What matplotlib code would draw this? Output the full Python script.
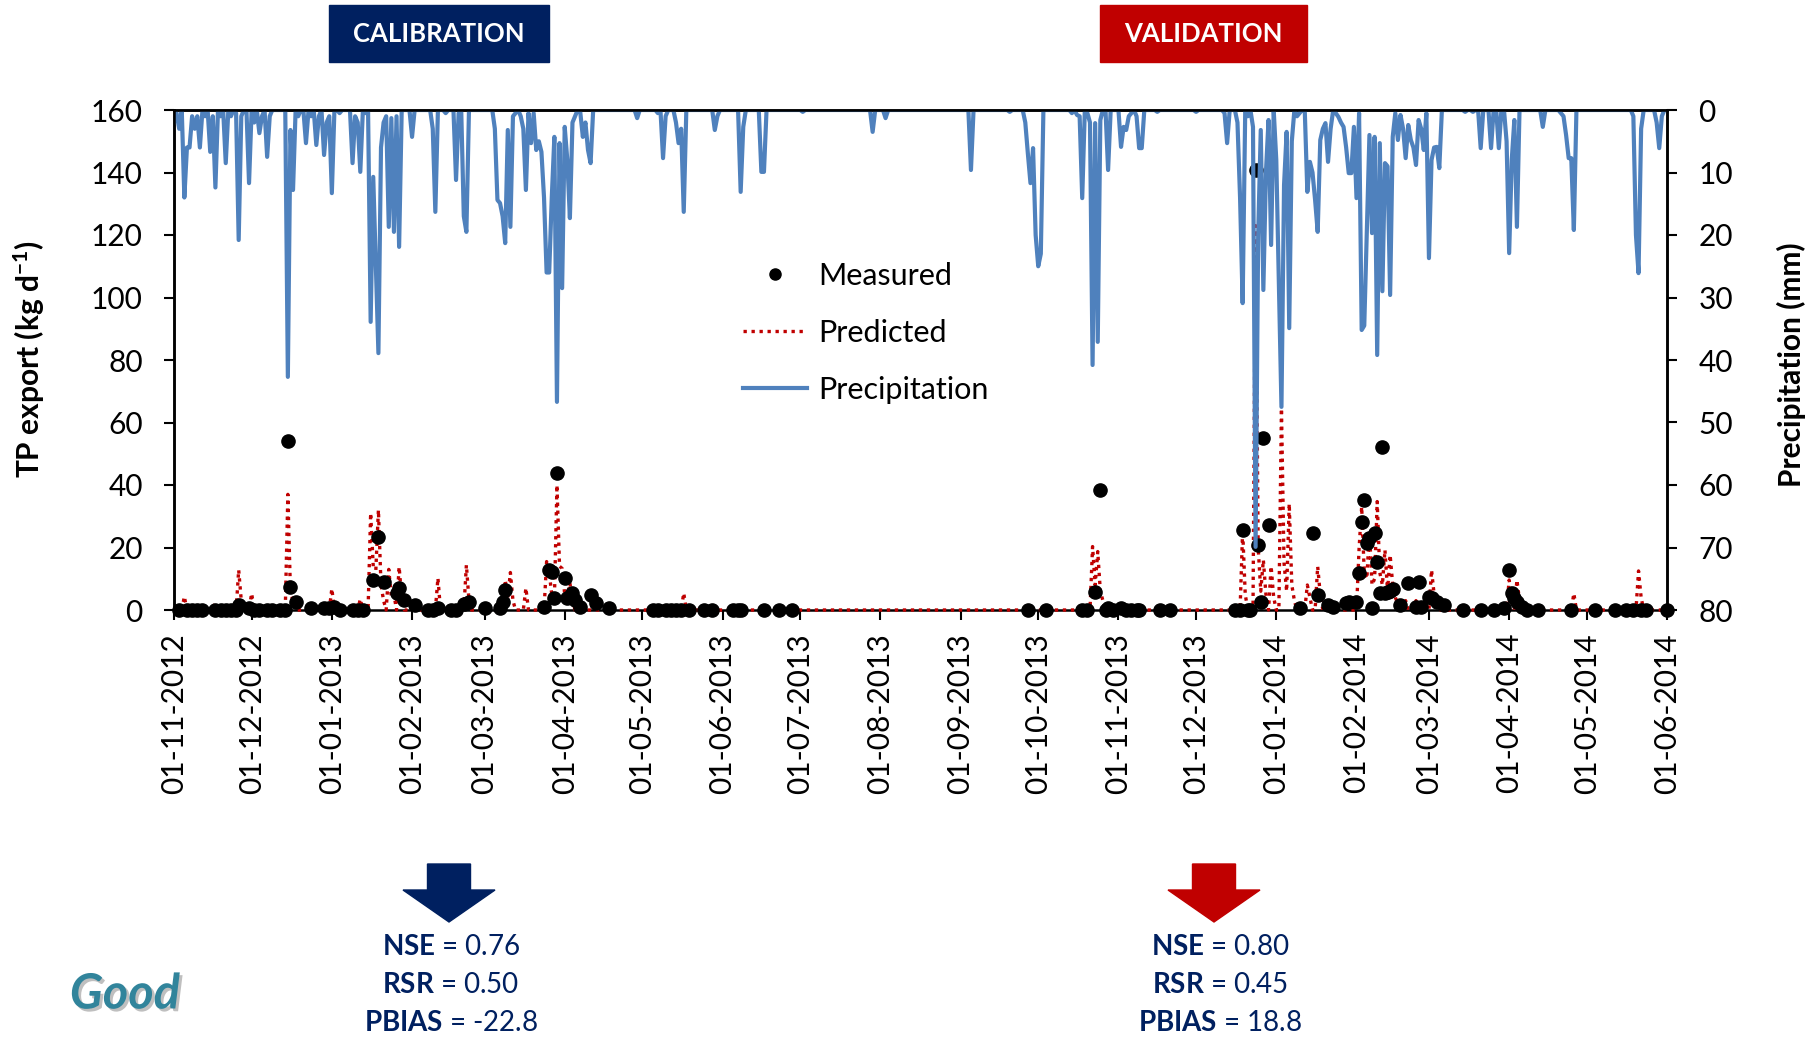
import numpy as np
import matplotlib
matplotlib.use('Agg')
import matplotlib.pyplot as plt
import matplotlib.dates as mdates
import matplotlib.patheffects as pe
from matplotlib import transforms
from matplotlib.lines import Line2D
from matplotlib.patches import Rectangle, Polygon

plt.rcParams['font.family'] = ['Lato', 'DejaVu Sans']
plt.rcParams['mathtext.fontset'] = 'custom'
plt.rcParams['mathtext.rm'] = 'Lato'
plt.rcParams['mathtext.bf'] = 'Lato:bold'
plt.rcParams['mathtext.it'] = 'Lato:italic'

start = np.datetime64('2012-11-01')
end = np.datetime64('2014-06-01')
split_date = np.datetime64('2013-05-29T10')

# daily rainfall as (days since 1 Nov 2012, mm); unlisted days were dry
rain = [(0, 2), (1, 0.5), (2, 3), (4, 14), (5, 6), (6, 6), (7, 1), (8, 3), (9, 1), (10, 6),
        (12, 1), (14, 6.7), (15, 1), (16, 12.4), (18, 1), (20, 8.5), (22, 1), (24, 0.5),
        (25, 20.8), (26, 1), (29, 11.7), (31, 2), (33, 3.7), (34, 1), (36, 7.5), (37, 1),
        (44, 42.7), (45, 3.2), (46, 12.8), (48, 1), (51, 5.3), (53, 1), (55, 5.6), (56, 1),
        (58, 7.2), (59, 2), (60, 1), (61, 13.3), (64, 0.5), (69, 8.5), (70, 1), (71, 2),
        (72, 9.9), (74, 0.5), (76, 33.9), (77, 10.7), (78, 25), (79, 38.9), (80, 6), (81, 2),
        (82, 1), (83, 18.7), (84, 1.3), (85, 19.5), (86, 1), (87, 21.9), (92, 4.3), (100, 3),
        (101, 16.3), (105, 0.5), (109, 11.2), (110, 0.5), (112, 17), (113, 19.5),
        (124, 3), (125, 14.4), (126, 14.9), (127, 17), (128, 21.3), (129, 3.2), (130, 18.7),
        (131, 1), (132, 0.5), (134, 1), (135, 3), (136, 12.8), (137, 0.5), (138, 5.3),
        (139, 0.5), (140, 6.4), (141, 5), (142, 6.7), (143, 14), (144, 26), (145, 26),
        (146, 14), (147, 4.3), (148, 46.7), (149, 5.3), (150, 28.5), (151, 2.7), (152, 8),
        (153, 17.3), (154, 2), (155, 1), (157, 0.3), (158, 4.3), (159, 2), (160, 6.4),
        (161, 8.5), (179, 1.3), (187, 0.5), (189, 7.7), (190, 1), (194, 2), (195, 5.3),
        (196, 3), (197, 16.3), (209, 3.2), (210, 1), (219, 13.1), (220, 2.7), (227, 9.9),
        (228, 9.9), (243, 0.3), (270, 3.5), (275, 1.3), (308, 9.6), (323, 0.3),
        (329, 2), (330, 7), (331, 11.7), (332, 6.1), (333, 20), (334, 25), (335, 23),
        (347, 0.5), (349, 0.8), (350, 1), (351, 14.1), (353, 0.5), (354, 2), (355, 40.8),
        (356, 2.1), (357, 37.1), (358, 1.6), (361, 9.6), (366, 5.9), (367, 2.7), (368, 3.2),
        (369, 1), (370, 0.5), (372, 1), (373, 6.1), (374, 6.1), (380, 0.3), (395, 0.3),
        (406, 0.5), (407, 5.3), (411, 2), (412, 14), (413, 30.9), (415, 1), (417, 2.7),
        (418, 69.9), (419, 20), (420, 3.2), (421, 28.8), (422, 10), (423, 1.6), (424, 21.6),
        (426, 8), (427, 28), (428, 47.5), (429, 12), (430, 3.5), (431, 34.9), (432, 5),
        (434, 1), (435, 0.5), (438, 13.1), (439, 8.3), (440, 10), (441, 14.4), (442, 19.5),
        (443, 4.8), (444, 3), (445, 2.1), (446, 8.3), (447, 3), (449, 0.5), (450, 1.1),
        (451, 2), (452, 2.7), (453, 6), (454, 10.1), (455, 10.1), (456, 2.7), (457, 14.1),
        (458, 0.5), (459, 35.2), (460, 34.5), (461, 19), (462, 4), (463, 19.7), (464, 4.3),
        (465, 39.2), (466, 5.3), (467, 29), (468, 8.5), (469, 9), (470, 29.6), (471, 4.3),
        (472, 0.5), (473, 4.8), (474, 0.8), (475, 3), (476, 7.7), (477, 2.4), (478, 4.8),
        (479, 6), (480, 8.8), (481, 1.6), (482, 3), (483, 6.4), (484, 0.5), (485, 23.7),
        (486, 8), (487, 6), (488, 5.9), (489, 9.3), (499, 0.3), (502, 0.3), (505, 6.1),
        (509, 6.1), (512, 6.1), (515, 5), (516, 22.9), (517, 8), (518, 1.6), (519, 18.7),
        (529, 2.7), (536, 0.5), (537, 1), (538, 4), (539, 7.7), (540, 7.7), (541, 19.2),
        (564, 1), (565, 20), (566, 26.1), (567, 3), (573, 2), (574, 6.1), (575, 1)]

# simulated TP export (kg/d); zero on unlisted days
pred = [(4, 4.3), (16, 2.5), (25, 12.8), (26, 3), (30, 5.3), (44, 37), (45, 6), (46, 3),
        (61, 6.8), (72, 3.5), (76, 31), (77, 14), (78, 12.8), (79, 32), (80, 8), (81, 3),
        (83, 13), (84, 4), (85, 5), (87, 13.8), (88, 4), (102, 10.2), (113, 14.4), (114, 3),
        (128, 9.6), (129, 4), (130, 12), (131, 3), (136, 7), (144, 15.5), (145, 12), (146, 5),
        (147, 3), (148, 40), (149, 14), (150, 13.3), (151, 5), (152, 4), (153, 8.6), (154, 3),
        (197, 5.4), (355, 20.3), (356, 8), (357, 18.7), (358, 6), (359, 3), (413, 25.6),
        (414, 5), (418, 123), (419, 20), (420, 6), (421, 16), (422, 5), (424, 14), (425, 4),
        (428, 64.5), (429, 15), (430, 6), (431, 34), (432, 8), (433, 3), (438, 8), (439, 4),
        (442, 13.9), (443, 5), (458, 19.7), (459, 33), (460, 12), (461, 10), (462, 25.6),
        (463, 8), (464, 10), (465, 34.7), (466, 12), (467, 8), (468, 19.2), (469, 6),
        (470, 17.6), (471, 8), (472, 4), (473, 2), (476, 3), (480, 3), (486, 12.8), (487, 5),
        (488, 3), (516, 9.6), (517, 4), (519, 9.6), (520, 3), (541, 5.3), (566, 12.5), (567, 4)]

# measured TP export samples (day, kg/d)
meas = [(2, 0), (5, 0), (7, 0), (9, 0), (11, 0), (16, 0), (18, 0), (20, 0), (22, 0), (24, 0),
        (25, 1.5), (29, 0.5), (31, 0), (33, 0), (36, 0), (38, 0), (41, 0), (43, 0), (44, 54),
        (45, 7.3), (47, 2.7), (53, 0.5), (58, 0.5), (60, 0.5), (62, 1), (64, 0), (69, 0),
        (71, 0), (73, 0), (77, 9.6), (79, 23.5), (81, 9.1), (86, 5.3), (87, 6.9), (89, 3.2),
        (93, 1.6), (98, 0), (100, 0), (102, 0.5), (107, 0), (109, 0), (112, 2), (114, 2.7),
        (120, 0.5), (126, 0.5), (127, 2.7), (128, 6.4), (143, 1), (145, 12.8), (146, 12.3),
        (147, 3.7), (148, 43.7), (151, 10.1), (152, 3.7), (154, 5.3), (155, 3.2), (157, 1),
        (161, 4.8), (163, 2.1), (168, 0.5), (185, 0), (187, 0), (190, 0), (192, 0), (194, 0),
        (196, 0), (199, 0), (205, 0), (208, 0), (216, 0), (218, 0), (219, 0), (228, 0),
        (234, 0), (239, 0),
        (330, 0), (337, 0), (351, 0), (353, 0), (356, 5.9), (358, 38.4), (360, 0), (361, 0.5),
        (363, 0), (366, 0.5), (368, 0), (370, 0), (372, 0), (373, 0), (381, 0), (385, 0),
        (410, 0), (412, 0), (413, 25.6), (415, 0), (416, 0), (418, 140.8), (419, 20.8),
        (420, 2.7), (421, 54.9), (423, 27.2), (435, 0.5), (440, 24.5), (442, 4.8), (446, 1.6),
        (448, 1), (453, 2.1), (454, 2.7), (457, 2.7), (458, 11.7), (459, 28.3), (460, 35.2),
        (461, 21.5), (462, 23), (463, 0.5), (464, 24.5), (465, 15.5), (466, 5.3), (467, 52.3),
        (468, 5.6), (469, 5.9), (470, 6.2), (471, 6.6), (474, 1.6), (477, 8.5), (480, 1),
        (481, 9.1), (482, 1), (485, 4.3), (486, 3.7), (488, 2.7), (491, 1.6), (498, 0),
        (505, 0), (510, 0), (514, 0.5), (516, 12.8), (517, 5.3), (518, 3.7), (519, 2.7),
        (521, 1), (523, 0), (527, 0), (540, 0), (549, 0), (557, 0), (561, 0), (564, 0),
        (567, 0), (569, 0), (577, 0)]

stat_names = ['NSE', 'RSR', 'PBIAS']
stats_cal = ['0.76', '0.50', '-22.8']
stats_val = ['0.80', '0.45', '18.8']

navy = '#002060'
darkred = '#C00000'
blue = '#4F81BD'

n_days = int((end - start).astype(int)) + 1
dates = start + np.arange(n_days)

rain_mm = np.zeros(n_days)
for d, v in rain:
    rain_mm[d] = v
pred_tp = np.zeros(n_days)
for d, v in pred:
    pred_tp[d] = v
meas_dates = start + np.array([d for d, _ in meas])
meas_tp = np.array([v for _, v in meas])

W, H = 1818, 1037


def fx(px):
    return px / W


def fy(py):
    return 1 - py / H


fig = plt.figure(figsize=(W / 100, H / 100), dpi=100)
ax = fig.add_axes([fx(174), fy(610), fx(1667) - fx(174), fy(110) - fy(610)])

ax.plot(dates, pred_tp, color=darkred, lw=2.4, ls=(0, (1, 1.4)), zorder=3, clip_on=False)
ax.plot(meas_dates, meas_tp, 'o', color='black', ms=9.5, zorder=4, clip_on=False)
ax.set_ylim(0, 160)
ax.set_yticks(range(0, 161, 20))
ax.set_xlim(start, end)
ax.xaxis.set_major_locator(mdates.MonthLocator())
ax.xaxis.set_major_formatter(mdates.DateFormatter('%d-%m-%Y'))

ax2 = ax.twinx()
ax2.plot(dates, rain_mm, color=blue, lw=3.0, zorder=2)
ax2.set_ylim(80, 0)
ax2.set_yticks(range(0, 81, 10))
ax2.set_xlim(start, end)

for a in (ax, ax2):
    for s in a.spines.values():
        s.set_linewidth(1.8)
        s.set_color('black')
ax2.spines['bottom'].set_visible(False)

ax.tick_params(axis='y', direction='out', length=7.5, width=1.5, labelsize=21.5, pad=15)
ax.tick_params(axis='x', direction='out', length=7.5, width=1.5, labelsize=21.5, pad=9,
               labelrotation=90)
ax2.tick_params(axis='y', direction='out', length=7.5, width=1.5, labelsize=21.5, pad=15)

fig.text(fx(29), fy(359), r'TP export (kg d$^{\mathbf{-1}}$)', rotation=90, fontsize=21.5,
         fontweight='bold', ha='center', va='center')
fig.text(fx(1791), fy(365), 'Precipitation (mm)', rotation=90, fontsize=21.5,
         fontweight='bold', ha='center', va='center')

handles = [Line2D([], [], marker='o', color='black', ls='none', ms=8),
           Line2D([], [], color=darkred, lw=2.4, ls=(0, (1, 1.4))),
           Line2D([], [], color=blue, lw=3.0)]
ax2.legend(handles, ['Measured', 'Predicted', 'Precipitation'], loc='upper left',
           bbox_to_anchor=(fx(743), fy(262)), bbox_transform=fig.transFigure,
           frameon=False, fontsize=22, handlelength=2.1, handletextpad=0.35,
           labelspacing=0.95, borderpad=0, borderaxespad=0)

# calibration / validation split
sep = transforms.blended_transform_factory(ax.transData, fig.transFigure)
fig.add_artist(Line2D([split_date, split_date], [0, 1], transform=sep, color='#A6A6A6',
                      lw=2.4, ls=(0, (1, 1.3))))

# period header boxes
for x0, x1, label, colour in [(329, 549, 'CALIBRATION', navy), (1100, 1307, 'VALIDATION', darkred)]:
    fig.add_artist(Rectangle((fx(x0), fy(62)), fx(x1) - fx(x0), fy(5) - fy(62),
                             transform=fig.transFigure, color=colour))
    fig.text(fx((x0 + x1) / 2), fy(34), label, color='white', fontsize=18.5,
             fontweight='bold', ha='center', va='center')


def down_arrow(cx, colour):
    top, neck, tip = 864, 890, 922
    shaft, head = 21.5, 46
    pts = [(cx - shaft, top), (cx + shaft, top), (cx + shaft, neck), (cx + head, neck),
           (cx, tip), (cx - head, neck), (cx - shaft, neck)]
    fig.add_artist(Polygon([(fx(x), fy(y)) for x, y in pts], closed=True,
                           transform=fig.transFigure, color=colour))


down_arrow(449, navy)
down_arrow(1214, darkred)

for cx, vals in [(451, stats_cal), (1220, stats_val)]:
    for y, name, v in zip([947, 985, 1023], stat_names, vals):
        fig.text(fx(cx), fy(y), r'$\mathbf{%s}$ = %s' % (name, v), color=navy,
                 fontsize=20, ha='center', va='center')

fig.text(fx(125), fy(994), 'Good', color='#31849B', fontsize=35, fontweight='bold',
         fontstyle='italic', ha='center', va='center',
         path_effects=[pe.SimplePatchShadow(offset=(2, -2), shadow_rgbFace='#808080', alpha=0.5),
                       pe.Normal()])

fig.savefig('out.png', dpi=100)
